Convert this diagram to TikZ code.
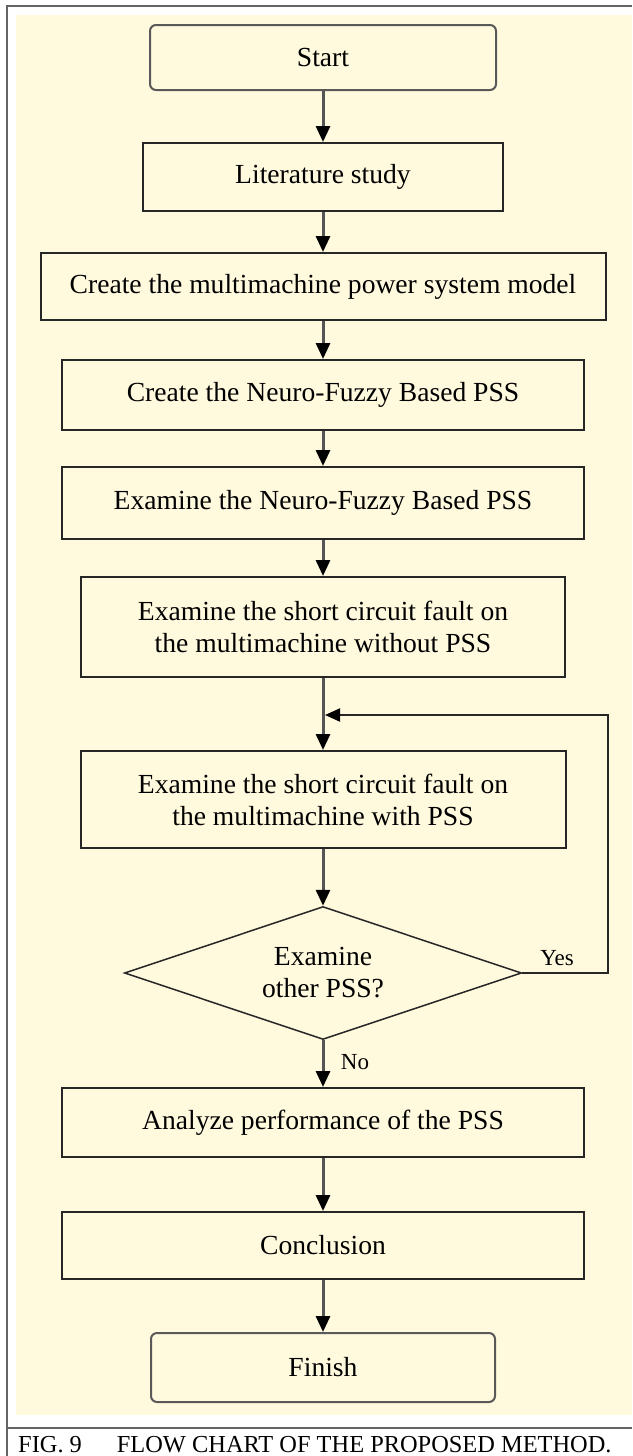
\documentclass[tikz,border=0pt]{standalone}
\usepackage{fontspec}
\setmainfont{Liberation Serif}
\usepackage{tikz}
\usetikzlibrary{shapes.geometric,arrows.meta}

\definecolor{paper}{RGB}{255,250,222}
\definecolor{frame}{RGB}{100,100,100}
\definecolor{shaft}{RGB}{85,85,85}
\newcommand{\boxfont}{\fontsize{27.6}{32}\selectfont}
\newcommand{\labfont}{\fontsize{23}{27}\selectfont}
\newcommand{\capfont}{\fontsize{24.4}{28}\selectfont}

\begin{document}
\begin{tikzpicture}[x=1pt, y=-1pt, every node/.style={font=\boxfont},
    stepbox/.style={draw=black!85, line width=2pt, fill=paper, inner sep=0pt, align=center},
    endbox/.style={stepbox, draw=black!65, rounded corners=6pt},
    query/.style={diamond, draw=black!85, line width=1.5pt, aspect=3, inner sep=0pt, align=center,
      minimum width=397pt, minimum height=133pt},
    flow/.style={draw=shaft, line width=3pt, -{Triangle[length=16pt, width=14pt, color=black]}},
    back/.style={draw=black!85, line width=2pt, -{Triangle[length=15pt, width=13pt, color=black]}}]

  \useasboundingbox (0,0) rectangle (632,1456);

  % ========== Frame and background ==========
  \fill[paper] (16,15) rectangle (632,1415);
  \draw[frame, line width=2pt] (7,1456) -- (7,6) -- (632,6);
  \draw[frame, line width=2pt] (7,1428) -- (632,1428);

  % ========== Steps ==========
  \node[endbox, minimum width=346pt, minimum height=65pt] (start) at (323,57.5) {Start};
  \node[stepbox, minimum width=360pt, minimum height=68pt] (lit) at (323,177) {Literature study};
  \node[stepbox, minimum width=565pt, minimum height=67pt] (model) at (323,286.5) {Create the multimachine power system model};
  \node[stepbox, minimum width=522pt, minimum height=70pt] (create) at (323,395) {Create the Neuro-Fuzzy Based PSS};
  \node[stepbox, minimum width=522pt, minimum height=72pt] (exam) at (323,503) {Examine the Neuro-Fuzzy Based PSS};
  \node[stepbox, minimum width=484pt, minimum height=100pt] (nopss) at (323,627) {Examine the short circuit fault on\\the multimachine without PSS};
  \node[stepbox, minimum width=485pt, minimum height=97pt] (withpss) at (323,799.5) {Examine the short circuit fault on\\the multimachine with PSS};

  % Decision
  \node[query] (other) at (323,973) {Examine\\other PSS?};

  \node[stepbox, minimum width=522pt, minimum height=69pt] (analyze) at (323,1122.5) {Analyze performance of the PSS};
  \node[stepbox, minimum width=522pt, minimum height=67pt] (concl) at (323,1245.5) {Conclusion};
  \node[endbox, minimum width=344pt, minimum height=69pt] (finish) at (323,1367.5) {Finish};

  % ========== Connectors ==========
  \draw[flow] (start) -- (lit);
  \draw[flow] (lit) -- (model);
  \draw[flow] (model) -- (create);
  \draw[flow] (create) -- (exam);
  \draw[flow] (exam) -- (nopss);
  \draw[flow] (nopss) -- (withpss);
  \draw[flow] (withpss) -- (other);
  \draw[flow] (other) -- (analyze);
  \draw[flow] (analyze) -- (concl);
  \draw[flow] (concl) -- (finish);

  % Loop back for the next PSS
  \coordinate (corner) at (608,715);
  \coordinate (join) at (325,715);
  \draw[back] (other.east) -| (corner) -- (join);

  \node[font=\labfont] (yes) at (557,958) {Yes};
  \node[font=\labfont] (no) at (355,1062) {No};

  % Caption
  \node[font=\capfont, anchor=base west, inner sep=0pt] (caption) at (18,1452) {FIG. 9\hspace{35pt}FLOW CHART OF THE PROPOSED METHOD.};

\end{tikzpicture}
\end{document}
